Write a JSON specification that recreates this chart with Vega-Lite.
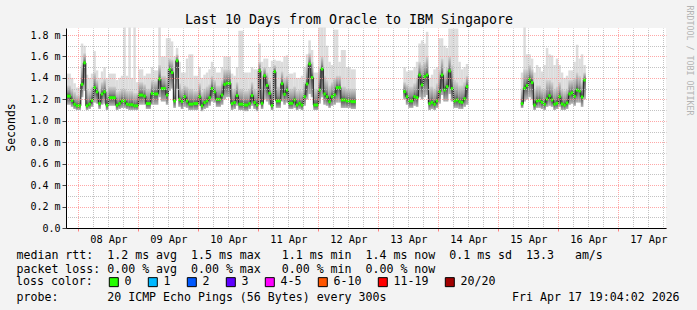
{
  "$schema": "https://vega.github.io/schema/vega-lite/v6.json",
  "width": 600,
  "height": 200,
  "autosize": {"type": "none"},
  "padding": {"left": 66, "top": 28, "right": 31, "bottom": 82},
  "background": "#f3f3f3",
  "config": {
    "view": {"fill": "white", "stroke": null},
    "font": "DejaVu Sans Mono",
    "axis": {"labelFont": "DejaVu Sans Mono", "titleFont": "DejaVu Sans Mono", "labelColor": "black", "titleColor": "black", "titleFontWeight": "normal"}
  },
  "datasets": {
    "rtt": [
      {"s":1,"h":19.1,"h2":21,"lo":1.15,"med":1.23,"q":1.33,"hi":1.44,"loss":"0"},
      {"s":1,"h":21,"h2":22,"lo":1.13,"med":1.19,"q":1.30,"hi":1.40,"loss":"0"},
      {"s":1,"h":22,"h2":23,"lo":1.11,"med":1.155,"q":1.27,"hi":1.35,"loss":"0"},
      {"s":1,"h":23,"h2":25,"lo":1.10,"med":1.14,"q":1.24,"hi":1.31,"loss":"0"},
      {"s":1,"h":25,"h2":26,"lo":1.22,"med":1.34,"q":1.52,"hi":1.72,"loss":"0"},
      {"s":1,"h":26,"h2":27,"lo":1.28,"med":1.54,"q":1.63,"hi":1.70,"loss":"0"},
      {"s":1,"h":27,"h2":28,"lo":1.10,"med":1.14,"q":1.30,"hi":1.43,"loss":"0"},
      {"s":1,"h":28,"h2":29,"lo":1.11,"med":1.155,"q":1.28,"hi":1.40,"loss":"0"},
      {"s":1,"h":29,"h2":30,"lo":1.13,"med":1.19,"q":1.32,"hi":1.44,"loss":"0"},
      {"s":1,"h":30,"h2":31,"lo":1.17,"med":1.31,"q":1.45,"hi":1.65,"loss":"0"},
      {"s":1,"h":31,"h2":32,"lo":1.16,"med":1.27,"q":1.38,"hi":1.47,"loss":"0"},
      {"s":1,"h":32,"h2":33,"lo":1.11,"med":1.16,"q":1.29,"hi":1.40,"loss":"0"},
      {"s":1,"h":33,"h2":34,"lo":1.15,"med":1.25,"q":1.36,"hi":1.46,"loss":"0"},
      {"s":1,"h":34,"h2":35,"lo":1.16,"med":1.27,"q":1.39,"hi":1.50,"loss":"0"},
      {"s":1,"h":35,"h2":36,"lo":1.10,"med":1.145,"q":1.28,"hi":1.40,"loss":"0"},
      {"s":1,"h":36,"h2":39,"lo":1.14,"med":1.215,"q":1.32,"hi":1.44,"loss":"0"},
      {"s":1,"h":39,"h2":40,"lo":1.10,"med":1.145,"q":1.27,"hi":1.38,"loss":"0"},
      {"s":1,"h":40,"h2":41,"lo":1.11,"med":1.16,"q":1.28,"hi":1.40,"loss":"0"},
      {"s":1,"h":41,"h2":42,"lo":1.12,"med":1.185,"q":1.30,"hi":1.42,"loss":"0"},
      {"s":1,"h":42,"h2":43,"lo":1.12,"med":1.185,"q":1.30,"hi":1.87,"loss":"0"},
      {"s":1,"h":43,"h2":44,"lo":1.11,"med":1.155,"q":1.28,"hi":1.42,"loss":"0"},
      {"s":1,"h":44,"h2":45,"lo":1.10,"med":1.15,"q":1.28,"hi":1.87,"loss":"0"},
      {"s":1,"h":45,"h2":46,"lo":1.10,"med":1.15,"q":1.28,"hi":1.40,"loss":"0"},
      {"s":1,"h":46,"h2":47,"lo":1.10,"med":1.14,"q":1.26,"hi":1.87,"loss":"0"},
      {"s":1,"h":47,"h2":48,"lo":1.10,"med":1.14,"q":1.26,"hi":1.36,"loss":"0"},
      {"s":1,"h":48,"h2":50,"lo":1.15,"med":1.24,"q":1.36,"hi":1.48,"loss":"0"},
      {"s":1,"h":50,"h2":51,"lo":1.15,"med":1.23,"q":1.34,"hi":1.42,"loss":"0"},
      {"s":1,"h":51,"h2":53,"lo":1.11,"med":1.16,"q":1.30,"hi":1.44,"loss":"0"},
      {"s":1,"h":53,"h2":54,"lo":1.15,"med":1.255,"q":1.38,"hi":1.50,"loss":"0"},
      {"s":1,"h":54,"h2":56,"lo":1.15,"med":1.25,"q":1.37,"hi":1.47,"loss":"0"},
      {"s":1,"h":56,"h2":57,"lo":1.22,"med":1.39,"q":1.52,"hi":1.87,"loss":"0"},
      {"s":1,"h":57,"h2":59,"lo":1.18,"med":1.30,"q":1.42,"hi":1.60,"loss":"0"},
      {"s":1,"h":59,"h2":60,"lo":1.15,"med":1.24,"q":1.40,"hi":1.77,"loss":"0"},
      {"s":1,"h":60,"h2":61,"lo":1.28,"med":1.48,"q":1.58,"hi":1.77,"loss":"0"},
      {"s":1,"h":61,"h2":62,"lo":1.30,"med":1.45,"q":1.57,"hi":1.74,"loss":"0"},
      {"s":1,"h":62,"h2":63,"lo":1.12,"med":1.185,"q":1.35,"hi":1.60,"loss":"0"},
      {"s":1,"h":63,"h2":64,"lo":1.30,"med":1.56,"q":1.62,"hi":1.68,"loss":"0"},
      {"s":1,"h":64,"h2":65,"lo":1.13,"med":1.20,"q":1.35,"hi":1.55,"loss":"0"},
      {"s":1,"h":65,"h2":66,"lo":1.11,"med":1.18,"q":1.30,"hi":1.45,"loss":"0"},
      {"s":1,"h":66,"h2":67,"lo":1.13,"med":1.225,"q":1.33,"hi":1.45,"loss":"0"},
      {"s":1,"h":67,"h2":68,"lo":1.12,"med":1.185,"q":1.32,"hi":1.58,"loss":"0"},
      {"s":1,"h":68,"h2":70,"lo":1.10,"med":1.155,"q":1.30,"hi":1.62,"loss":"0"},
      {"s":1,"h":70,"h2":72,"lo":1.10,"med":1.16,"q":1.28,"hi":1.42,"loss":"0"},
      {"s":1,"h":72,"h2":73,"lo":1.14,"med":1.225,"q":1.35,"hi":1.50,"loss":"0"},
      {"s":1,"h":73,"h2":74,"lo":1.09,"med":1.14,"q":1.27,"hi":1.40,"loss":"0"},
      {"s":1,"h":74,"h2":75,"lo":1.11,"med":1.17,"q":1.30,"hi":1.43,"loss":"0"},
      {"s":1,"h":75,"h2":76,"lo":1.12,"med":1.185,"q":1.32,"hi":1.45,"loss":"0"},
      {"s":1,"h":76,"h2":77,"lo":1.14,"med":1.215,"q":1.34,"hi":1.48,"loss":"0"},
      {"s":1,"h":77,"h2":78,"lo":1.18,"med":1.30,"q":1.42,"hi":1.55,"loss":"0"},
      {"s":1,"h":78,"h2":79,"lo":1.17,"med":1.27,"q":1.38,"hi":1.50,"loss":"0"},
      {"s":1,"h":79,"h2":81,"lo":1.13,"med":1.20,"q":1.33,"hi":1.45,"loss":"0"},
      {"s":1,"h":81,"h2":82,"lo":1.15,"med":1.24,"q":1.38,"hi":1.50,"loss":"0"},
      {"s":1,"h":82,"h2":83,"lo":1.20,"med":1.34,"q":1.48,"hi":1.60,"loss":"0"},
      {"s":1,"h":83,"h2":85,"lo":1.22,"med":1.35,"q":1.48,"hi":1.60,"loss":"0"},
      {"s":1,"h":85,"h2":86,"lo":1.10,"med":1.16,"q":1.30,"hi":1.44,"loss":"0"},
      {"s":1,"h":86,"h2":87,"lo":1.11,"med":1.17,"q":1.30,"hi":1.42,"loss":"0"},
      {"s":1,"h":87,"h2":88,"lo":1.14,"med":1.235,"q":1.36,"hi":1.50,"loss":"0"},
      {"s":1,"h":88,"h2":90,"lo":1.10,"med":1.155,"q":1.30,"hi":1.84,"loss":"0"},
      {"s":1,"h":90,"h2":92,"lo":1.09,"med":1.147,"q":1.28,"hi":1.45,"loss":"0"},
      {"s":1,"h":92,"h2":93,"lo":1.11,"med":1.16,"q":1.30,"hi":1.45,"loss":"0"},
      {"s":1,"h":93,"h2":94,"lo":1.14,"med":1.235,"q":1.36,"hi":1.50,"loss":"0"},
      {"s":1,"h":94,"h2":95,"lo":1.11,"med":1.17,"q":1.30,"hi":1.48,"loss":"0"},
      {"s":1,"h":95,"h2":96,"lo":1.09,"med":1.147,"q":1.28,"hi":1.48,"loss":"0"},
      {"s":1,"h":96,"h2":97,"lo":1.15,"med":1.465,"q":1.55,"hi":1.72,"loss":"0"},
      {"s":1,"h":97,"h2":98,"lo":1.11,"med":1.163,"q":1.32,"hi":1.55,"loss":"0"},
      {"s":1,"h":98,"h2":99,"lo":1.20,"med":1.42,"q":1.50,"hi":1.58,"loss":"0"},
      {"s":1,"h":99,"h2":100,"lo":1.18,"med":1.33,"q":1.45,"hi":1.58,"loss":"0"},
      {"s":1,"h":100,"h2":101,"lo":1.15,"med":1.256,"q":1.38,"hi":1.50,"loss":"0"},
      {"s":1,"h":101,"h2":102,"lo":1.10,"med":1.141,"q":1.30,"hi":1.56,"loss":"0"},
      {"s":1,"h":102,"h2":103,"lo":1.20,"med":1.458,"q":1.52,"hi":1.57,"loss":"0"},
      {"s":1,"h":103,"h2":105,"lo":1.12,"med":1.185,"q":1.32,"hi":1.56,"loss":"0"},
      {"s":1,"h":105,"h2":106,"lo":1.18,"med":1.346,"q":1.46,"hi":1.55,"loss":"0"},
      {"s":1,"h":106,"h2":107,"lo":1.15,"med":1.247,"q":1.40,"hi":1.60,"loss":"0"},
      {"s":1,"h":107,"h2":108,"lo":1.17,"med":1.287,"q":1.42,"hi":1.61,"loss":"0"},
      {"s":1,"h":108,"h2":110,"lo":1.11,"med":1.163,"q":1.30,"hi":1.44,"loss":"0"},
      {"s":1,"h":110,"h2":111,"lo":1.12,"med":1.194,"q":1.32,"hi":1.45,"loss":"0"},
      {"s":1,"h":111,"h2":112,"lo":1.10,"med":1.147,"q":1.28,"hi":1.40,"loss":"0"},
      {"s":1,"h":112,"h2":113,"lo":1.11,"med":1.163,"q":1.29,"hi":1.40,"loss":"0"},
      {"s":1,"h":113,"h2":114,"lo":1.10,"med":1.147,"q":1.28,"hi":1.42,"loss":"0"},
      {"s":1,"h":114,"h2":115,"lo":1.14,"med":1.225,"q":1.36,"hi":1.50,"loss":"0"},
      {"s":1,"h":115,"h2":116,"lo":1.20,"med":1.343,"q":1.52,"hi":1.62,"loss":"0"},
      {"s":1,"h":116,"h2":117,"lo":1.25,"med":1.53,"q":1.63,"hi":1.75,"loss":"0"},
      {"s":1,"h":117,"h2":118,"lo":1.22,"med":1.402,"q":1.55,"hi":1.66,"loss":"0"},
      {"s":1,"h":118,"h2":120,"lo":1.10,"med":1.147,"q":1.30,"hi":1.45,"loss":"0"},
      {"s":1,"h":120,"h2":121,"lo":1.16,"med":1.287,"q":1.50,"hi":1.87,"loss":"0"},
      {"s":1,"h":121,"h2":122,"lo":1.22,"med":1.483,"q":1.60,"hi":1.87,"loss":"0"},
      {"s":1,"h":122,"h2":123,"lo":1.15,"med":1.25,"q":1.42,"hi":1.87,"loss":"0"},
      {"s":1,"h":123,"h2":124,"lo":1.14,"med":1.225,"q":1.38,"hi":1.70,"loss":"0"},
      {"s":1,"h":124,"h2":125,"lo":1.12,"med":1.178,"q":1.33,"hi":1.55,"loss":"0"},
      {"s":1,"h":125,"h2":126,"lo":1.14,"med":1.225,"q":1.36,"hi":1.52,"loss":"0"},
      {"s":1,"h":126,"h2":127,"lo":1.15,"med":1.241,"q":1.40,"hi":1.85,"loss":"0"},
      {"s":1,"h":127,"h2":128,"lo":1.17,"med":1.309,"q":1.42,"hi":1.85,"loss":"0"},
      {"s":1,"h":128,"h2":129,"lo":1.17,"med":1.309,"q":1.42,"hi":1.55,"loss":"0"},
      {"s":1,"h":129,"h2":131,"lo":1.12,"med":1.194,"q":1.32,"hi":1.66,"loss":"0"},
      {"s":1,"h":131,"h2":133,"lo":1.12,"med":1.185,"q":1.30,"hi":1.50,"loss":"0"},
      {"s":1,"h":133,"h2":135,"lo":1.11,"med":1.178,"q":1.30,"hi":1.48,"loss":"0"},
      {"s":2,"h":154,"h2":155,"lo":1.20,"med":1.272,"q":1.36,"hi":1.50,"loss":"0"},
      {"s":2,"h":155,"h2":156,"lo":1.15,"med":1.225,"q":1.34,"hi":1.46,"loss":"0"},
      {"s":2,"h":156,"h2":158,"lo":1.12,"med":1.185,"q":1.32,"hi":1.47,"loss":"0"},
      {"s":2,"h":158,"h2":159,"lo":1.14,"med":1.225,"q":1.35,"hi":1.50,"loss":"0"},
      {"s":2,"h":159,"h2":160,"lo":1.13,"med":1.216,"q":1.40,"hi":1.55,"loss":"0"},
      {"s":2,"h":160,"h2":161,"lo":1.22,"med":1.427,"q":1.55,"hi":1.72,"loss":"0"},
      {"s":2,"h":161,"h2":162,"lo":1.20,"med":1.334,"q":1.52,"hi":1.75,"loss":"0"},
      {"s":2,"h":162,"h2":163,"lo":1.22,"med":1.412,"q":1.55,"hi":1.72,"loss":"0"},
      {"s":2,"h":163,"h2":164,"lo":1.24,"med":1.427,"q":1.60,"hi":1.83,"loss":"0"},
      {"s":2,"h":164,"h2":165,"lo":1.10,"med":1.16,"q":1.32,"hi":1.40,"loss":"0"},
      {"s":2,"h":165,"h2":166,"lo":1.11,"med":1.172,"q":1.32,"hi":1.43,"loss":"0"},
      {"s":2,"h":166,"h2":167,"lo":1.10,"med":1.154,"q":1.30,"hi":1.48,"loss":"0"},
      {"s":2,"h":167,"h2":168,"lo":1.12,"med":1.185,"q":1.35,"hi":1.50,"loss":"0"},
      {"s":2,"h":168,"h2":169,"lo":1.16,"med":1.272,"q":1.48,"hi":1.77,"loss":"0"},
      {"s":2,"h":169,"h2":170,"lo":1.24,"med":1.427,"q":1.58,"hi":1.77,"loss":"0"},
      {"s":2,"h":170,"h2":171,"lo":1.18,"med":1.287,"q":1.45,"hi":1.70,"loss":"0"},
      {"s":2,"h":171,"h2":172,"lo":1.18,"med":1.318,"q":1.50,"hi":1.68,"loss":"0"},
      {"s":2,"h":172,"h2":173,"lo":1.25,"med":1.465,"q":1.60,"hi":1.86,"loss":"0"},
      {"s":2,"h":173,"h2":174,"lo":1.18,"med":1.30,"q":1.52,"hi":1.86,"loss":"0"},
      {"s":2,"h":174,"h2":175,"lo":1.12,"med":1.185,"q":1.38,"hi":1.86,"loss":"0"},
      {"s":2,"h":175,"h2":176,"lo":1.12,"med":1.194,"q":1.36,"hi":1.86,"loss":"0"},
      {"s":2,"h":176,"h2":177,"lo":1.11,"med":1.178,"q":1.33,"hi":1.55,"loss":"0"},
      {"s":2,"h":177,"h2":178,"lo":1.11,"med":1.172,"q":1.33,"hi":1.48,"loss":"0"},
      {"s":2,"h":178,"h2":179,"lo":1.13,"med":1.206,"q":1.36,"hi":1.50,"loss":"0"},
      {"s":2,"h":179,"h2":180,"lo":1.15,"med":1.318,"q":1.42,"hi":1.53,"loss":"0"},
      {"s":3,"h":201,"h2":202,"lo":1.12,"med":1.16,"q":1.30,"hi":1.45,"loss":"0"},
      {"s":3,"h":202,"h2":203,"lo":1.18,"med":1.303,"q":1.48,"hi":1.87,"loss":"0"},
      {"s":3,"h":203,"h2":204,"lo":1.20,"med":1.328,"q":1.48,"hi":1.62,"loss":"0"},
      {"s":3,"h":204,"h2":205,"lo":1.22,"med":1.387,"q":1.52,"hi":1.62,"loss":"0"},
      {"s":3,"h":205,"h2":206,"lo":1.20,"med":1.356,"q":1.48,"hi":1.58,"loss":"0"},
      {"s":3,"h":206,"h2":207,"lo":1.10,"med":1.147,"q":1.30,"hi":1.45,"loss":"0"},
      {"s":3,"h":207,"h2":208,"lo":1.12,"med":1.185,"q":1.33,"hi":1.52,"loss":"0"},
      {"s":3,"h":208,"h2":209,"lo":1.12,"med":1.19,"q":1.33,"hi":1.50,"loss":"0"},
      {"s":3,"h":209,"h2":210,"lo":1.11,"med":1.172,"q":1.30,"hi":1.46,"loss":"0"},
      {"s":3,"h":210,"h2":211,"lo":1.10,"med":1.154,"q":1.30,"hi":1.52,"loss":"0"},
      {"s":3,"h":211,"h2":212,"lo":1.13,"med":1.203,"q":1.38,"hi":1.68,"loss":"0"},
      {"s":3,"h":212,"h2":213,"lo":1.14,"med":1.234,"q":1.38,"hi":1.62,"loss":"0"},
      {"s":3,"h":213,"h2":214,"lo":1.13,"med":1.194,"q":1.36,"hi":1.61,"loss":"0"},
      {"s":3,"h":214,"h2":215,"lo":1.10,"med":1.154,"q":1.30,"hi":1.52,"loss":"0"},
      {"s":3,"h":215,"h2":216,"lo":1.11,"med":1.163,"q":1.32,"hi":1.58,"loss":"0"},
      {"s":3,"h":216,"h2":217,"lo":1.13,"med":1.225,"q":1.36,"hi":1.52,"loss":"0"},
      {"s":3,"h":217,"h2":218,"lo":1.10,"med":1.157,"q":1.30,"hi":1.45,"loss":"0"},
      {"s":3,"h":218,"h2":219,"lo":1.10,"med":1.147,"q":1.28,"hi":1.40,"loss":"0"},
      {"s":3,"h":219,"h2":220,"lo":1.11,"med":1.166,"q":1.30,"hi":1.42,"loss":"0"},
      {"s":3,"h":220,"h2":221,"lo":1.15,"med":1.25,"q":1.38,"hi":1.47,"loss":"0"},
      {"s":3,"h":221,"h2":222,"lo":1.16,"med":1.26,"q":1.38,"hi":1.47,"loss":"0"},
      {"s":3,"h":222,"h2":223,"lo":1.14,"med":1.228,"q":1.40,"hi":1.55,"loss":"0"},
      {"s":3,"h":223,"h2":224,"lo":1.17,"med":1.287,"q":1.45,"hi":1.71,"loss":"0"},
      {"s":3,"h":224,"h2":225,"lo":1.17,"med":1.278,"q":1.42,"hi":1.58,"loss":"0"},
      {"s":3,"h":225,"h2":226,"lo":1.13,"med":1.222,"q":1.36,"hi":1.62,"loss":"0"},
      {"s":3,"h":226,"h2":227,"lo":1.20,"med":1.38,"q":1.45,"hi":1.52,"loss":"0"}
    ]
  },
  "data": {"name": "rtt"},
  "resolve": {"axis": {"x": "independent", "y": "independent"}},
  "layer": [
    {
      "mark": {"type": "rect", "color": "#dcdcdc"},
      "encoding": {
        "x": {"field": "h", "type": "quantitative", "scale": {"domain": [19.067, 259.067], "nice": false, "zero": false},
          "axis": {"orient": "bottom", "values": [30,36,42,54,60,66,78,84,90,102,108,114,126,132,138,150,156,162,174,180,186,198,204,210,222,228,234,246,252,258],
            "grid": true, "gridColor": "#b8b8b8", "gridOpacity": 0.85, "gridDash": [1, 1], "gridDashOffset": 0.5, "ticks": false, "labels": false, "domain": false,
            "title": "probe:\u00a0\u00a0\u00a0\u00a0\u00a0\u00a0\u00a020 ICMP Echo Pings (56 Bytes) every 300s\u00a0\u00a0\u00a0\u00a0\u00a0\u00a0\u00a0\u00a0\u00a0\u00a0\u00a0\u00a0\u00a0\u00a0\u00a0\u00a0\u00a0\u00a0Fri Apr 17 19:04:02 2026",
            "titleFontSize": 11.6, "titleX": -50, "titleY": 72, "titleAlign": "left", "titleAnchor": "start", "titleBaseline": "alphabetic", "zindex": 1}},
        "x2": {"field": "h2"},
        "y": {"field": "lo", "type": "quantitative", "scale": {"domain": [0, 1.8653], "nice": false, "zero": false},
          "axis": {"orient": "left", "values": [0.1,0.3,0.5,0.7,0.9,1.1,1.3,1.5,1.7],
            "grid": true, "gridColor": "#b8b8b8", "gridOpacity": 0.85, "gridDash": [1, 1], "gridDashOffset": 0.5, "ticks": false, "labels": false, "domain": false, "title": null, "zindex": 1}},
        "y2": {"field": "hi"}
      }
    },
    {
      "mark": {"type": "rect", "color": {"gradient": "linear", "x1": 0, "y1": 1, "x2": 0, "y2": 0, "stops": [{"offset": 0, "color": "#b4b4b4"}, {"offset": 1, "color": "#505050"}]}},
      "encoding": {
        "x": {"field": "h", "type": "quantitative",
          "axis": {"orient": "bottom", "values": [24,48,72,96,120,144,168,192,216,240],
            "grid": true, "gridColor": "#ff8a8a", "gridOpacity": 0.75, "gridDash": [1, 1], "gridDashOffset": 0.5, "ticks": true, "tickColor": "#ff8080", "tickSize": 3, "labels": false, "domain": false, "title": null, "zindex": 1}},
        "x2": {"field": "h2"},
        "y": {"field": "lo", "type": "quantitative",
          "axis": {"orient": "left", "values": [0,0.2,0.4,0.6,0.8,1,1.2,1.4,1.6,1.8],
            "grid": true, "gridColor": "#ff8a8a", "gridOpacity": 0.75, "gridDash": [1, 1], "gridDashOffset": 0.5, "ticks": true, "tickColor": "#444444", "tickSize": 4,
            "labelExpr": "datum.value == 0 ? '0.0' : format(datum.value, '.1f') + ' m'", "labelFontSize": 10, "labelPadding": 2,
            "domain": true, "domainColor": "black",
            "title": "Seconds", "titleFontSize": 11.5, "titleAngle": 270, "titleX": -55, "titleY": 99, "titleAlign": "center", "titleBaseline": "middle", "zindex": 1}},
        "y2": {"field": "med"}
      }
    },
    {
      "mark": {"type": "rect", "color": {"gradient": "linear", "x1": 0, "y1": 1, "x2": 0, "y2": 0, "stops": [{"offset": 0, "color": "#505050"}, {"offset": 0.35, "color": "#8e8e8e"}, {"offset": 1, "color": "#d2d2d2"}]}},
      "encoding": {
        "x": {"field": "h", "type": "quantitative",
          "axis": {"orient": "bottom", "values": [36,60,84,108,132,156,180,204,228,252],
            "grid": false, "ticks": false, "tickSize": 0, "domain": true, "domainColor": "black",
            "labelExpr": "(floor(datum.value / 24) + 7 < 10 ? '0' : '') + (floor(datum.value / 24) + 7) + ' Apr'",
            "labelFontSize": 10.3, "labelBaseline": "alphabetic", "labelPadding": 14.5,
            "title": [
              "median rtt:\u00a0\u00a01.2 ms avg\u00a0\u00a01.5 ms max\u00a0\u00a0\u00a01.1 ms min\u00a0\u00a01.4 ms now\u00a0\u00a00.1 ms sd\u00a0\u00a013.3\u00a0\u00a0\u00a0am/s",
              "packet loss: 0.00 % avg\u00a0\u00a00.00 % max\u00a0\u00a0\u00a00.00 % min\u00a0\u00a00.00 % now"
            ],
            "titleFontSize": 11.6, "titleX": -50, "titleY": 30, "titleAlign": "left", "titleAnchor": "start", "titleBaseline": "alphabetic", "titleLineHeight": 14, "zindex": 1}},
        "x2": {"field": "h2"},
        "y": {"field": "med", "type": "quantitative",
          "axis": {"orient": "right", "grid": false, "ticks": false, "labels": false, "domain": false,
            "title": "RRDTOOL / TOBI OETIKER", "titleFontSize": 8.3, "titleColor": "#b4b4b4", "titleAngle": 90, "titleX": 22, "titleY": -23, "titleAlign": "left", "titleBaseline": "middle"}},
        "y2": {"field": "q"}
      }
    },
    {
      "mark": {"type": "line", "interpolate": "step-after", "color": "#1a1a1a", "strokeWidth": 1},
      "encoding": {
        "x": {"field": "h", "type": "quantitative",
          "axis": {"orient": "top", "grid": false, "ticks": false, "labels": false, "domain": false,
            "title": "Last 10 Days from Oracle to IBM Singapore", "titleFontSize": 13.3, "titleX": 282.5, "titleY": -4.5, "titleAlign": "center", "titleBaseline": "alphabetic"}},
        "y": {"field": "med", "type": "quantitative", "axis": null},
        "detail": {"field": "s", "type": "nominal"}
      }
    },
    {
      "mark": {"type": "rect", "height": 3},
      "encoding": {
        "x": {"field": "h", "type": "quantitative", "axis": null},
        "x2": {"field": "h2"},
        "y": {"field": "med", "type": "quantitative", "axis": null},
        "color": {"field": "loss", "type": "nominal",
          "scale": {"domain": ["0", "1", "2", "3", "4-5", "6-10", "11-19", "20/20"], "range": ["#26ff00", "#00b8ff", "#0059ff", "#5e00ff", "#ff00ff", "#ff5500", "#ff0000", "#a10000"]},
          "legend": {"title": "loss color:", "orient": "none", "legendX": -50, "legendY": 248, "direction": "horizontal", "titleOrient": "left", "titlePadding": 15,
            "titleFont": "DejaVu Sans Mono", "titleFontSize": 11.6, "titleFontWeight": "normal", "titleColor": "black",
            "labelFont": "DejaVu Sans Mono", "labelFontSize": 11.6, "labelColor": "black", "labelOffset": 5,
            "symbolType": "square", "symbolSize": 81, "symbolStrokeColor": "black", "symbolStrokeWidth": 1, "symbolOpacity": 1, "columnPadding": 14, "padding": 0}}
      }
    }
  ]
}
